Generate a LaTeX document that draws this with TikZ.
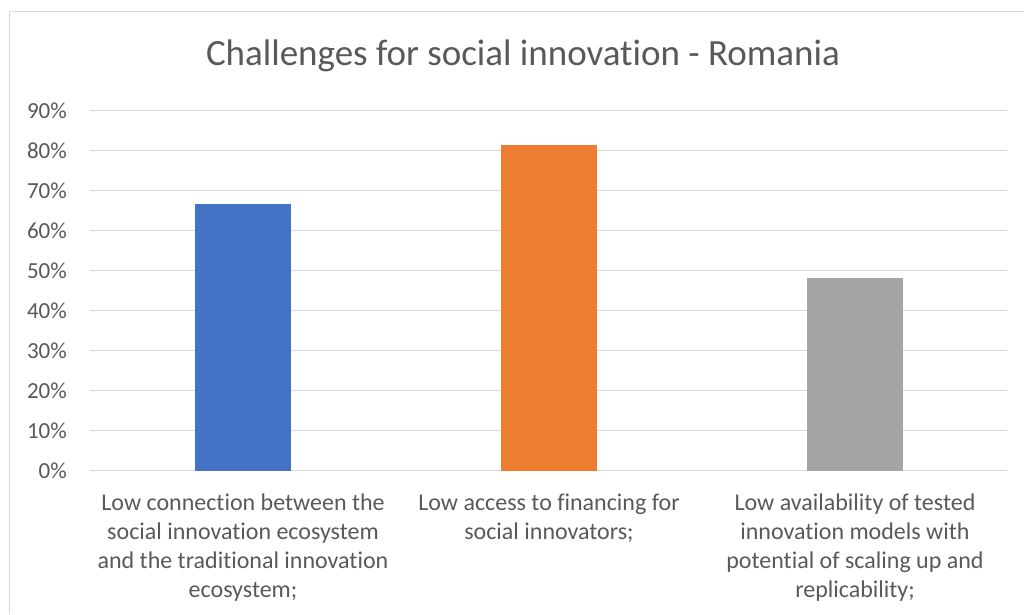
\documentclass[tikz,border=0pt]{standalone}
\usepackage{fontspec}
\setmainfont{Carlito}[Ligatures=CommonOff]
\usetikzlibrary{positioning}
\definecolor{chartblue}{HTML}{4472C4}
\definecolor{chartorange}{HTML}{ED7D31}
\definecolor{chartgray}{HTML}{A5A5A5}
\definecolor{gridgray}{HTML}{D9D9D9}
\definecolor{labelgray}{HTML}{595959}
\begin{document}
\begin{tikzpicture}[x=1pt,y=-1pt,
		gridline/.style={draw=gridgray, line width=1.3pt},
		ticklabel/.style={anchor=east, text=labelgray, inner sep=0pt, font=\fontsize{23}{28}\selectfont},
		catlabel/.style={anchor=north, align=center, text=labelgray, inner sep=0pt, font=\fontsize{24}{29}\selectfont},
		bar/.style={draw=none, inner sep=0pt, minimum width=96pt, anchor=south}]
		\useasboundingbox (0,0) rectangle (1024,614);
		%Chart border
		\draw [gridgray, line width=1.3pt] (9.5,614) -- (9.5,11.5) -- (1024,11.5);
		%Title
		\node [text=labelgray, font=\fontsize{37}{44}\selectfont] (title) at (523,56) {Challenges for social innovation - Romania};
		%Gridlines and percentages
		\foreach \i in {0,...,9} {
			\pgfmathtruncatemacro{\pct}{10*\i}
			\coordinate (gl\i) at (90,470.7-40*\i);
			\coordinate (gr\i) at (1007,470.7-40*\i);
			\draw [gridline] (gl\i) -- (gr\i);
			\node [ticklabel] (tick\i) at (67,470.7-40*\i) {\pct\%};
		}
		%The bars
		\coordinate (base1) at (243,470.7);
		\coordinate (base2) at (549,470.7);
		\coordinate (base3) at (855,470.7);
		\node [bar, fill=chartblue, minimum height=266.8pt] (bar1) at (base1) {};
		\node [bar, fill=chartorange, minimum height=325.7pt] (bar2) at (base2) {};
		\node [bar, fill=chartgray, minimum height=192.7pt] (bar3) at (base3) {};
		%Category labels
		\node [catlabel] (cat1) at (243,494) {Low connection between the\\social innovation ecosystem\\and the traditional innovation\\ecosystem;};
		\node [catlabel] (cat2) at (549,494) {Low access to financing for\\social innovators;};
		\node [catlabel] (cat3) at (855,494) {Low availability of tested\\innovation models with\\potential of scaling up and\\replicability;};
\end{tikzpicture}
\end{document}
